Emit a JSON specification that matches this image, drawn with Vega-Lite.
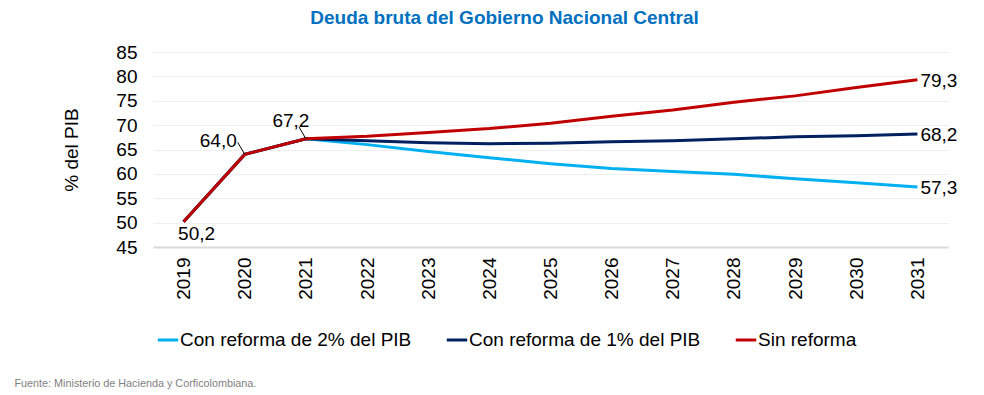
{
  "$schema": "https://vega.github.io/schema/vega-lite/v6.json",
  "width": 795,
  "height": 195,
  "autosize": {"type": "none"},
  "padding": {"left": 153, "top": 52, "right": 36, "bottom": 148},
  "background": "white",
  "config": {
    "view": {"stroke": null},
    "font": "Liberation Sans",
    "locale": {"number": {"decimal": ",", "thousands": ".", "grouping": [3], "currency": ["$", ""]}}
  },
  "title": {
    "text": "Deuda bruta del Gobierno Nacional Central",
    "font": "Liberation Sans",
    "fontSize": 19,
    "fontWeight": "bold",
    "color": "#0070C0",
    "anchor": "middle",
    "frame": "group",
    "dx": -46,
    "baseline": "alphabetic",
    "offset": 0
  },
  "data": {
    "values": [
      {"year": "2019", "series": "Con reforma de 2% del PIB", "value": 50.2},
      {"year": "2020", "series": "Con reforma de 2% del PIB", "value": 64.0},
      {"year": "2021", "series": "Con reforma de 2% del PIB", "value": 67.2},
      {"year": "2022", "series": "Con reforma de 2% del PIB", "value": 66.0},
      {"year": "2023", "series": "Con reforma de 2% del PIB", "value": 64.6},
      {"year": "2024", "series": "Con reforma de 2% del PIB", "value": 63.3},
      {"year": "2025", "series": "Con reforma de 2% del PIB", "value": 62.1},
      {"year": "2026", "series": "Con reforma de 2% del PIB", "value": 61.1},
      {"year": "2027", "series": "Con reforma de 2% del PIB", "value": 60.5},
      {"year": "2028", "series": "Con reforma de 2% del PIB", "value": 59.9},
      {"year": "2029", "series": "Con reforma de 2% del PIB", "value": 59.0},
      {"year": "2030", "series": "Con reforma de 2% del PIB", "value": 58.2},
      {"year": "2031", "series": "Con reforma de 2% del PIB", "value": 57.3},
      {"year": "2019", "series": "Con reforma de 1% del PIB", "value": 50.2},
      {"year": "2020", "series": "Con reforma de 1% del PIB", "value": 64.0},
      {"year": "2021", "series": "Con reforma de 1% del PIB", "value": 67.2},
      {"year": "2022", "series": "Con reforma de 1% del PIB", "value": 66.8},
      {"year": "2023", "series": "Con reforma de 1% del PIB", "value": 66.4},
      {"year": "2024", "series": "Con reforma de 1% del PIB", "value": 66.2},
      {"year": "2025", "series": "Con reforma de 1% del PIB", "value": 66.3},
      {"year": "2026", "series": "Con reforma de 1% del PIB", "value": 66.6},
      {"year": "2027", "series": "Con reforma de 1% del PIB", "value": 66.8},
      {"year": "2028", "series": "Con reforma de 1% del PIB", "value": 67.2},
      {"year": "2029", "series": "Con reforma de 1% del PIB", "value": 67.6},
      {"year": "2030", "series": "Con reforma de 1% del PIB", "value": 67.8},
      {"year": "2031", "series": "Con reforma de 1% del PIB", "value": 68.2},
      {"year": "2019", "series": "Sin reforma", "value": 50.2},
      {"year": "2020", "series": "Sin reforma", "value": 64.0},
      {"year": "2021", "series": "Sin reforma", "value": 67.2},
      {"year": "2022", "series": "Sin reforma", "value": 67.7},
      {"year": "2023", "series": "Sin reforma", "value": 68.5},
      {"year": "2024", "series": "Sin reforma", "value": 69.3},
      {"year": "2025", "series": "Sin reforma", "value": 70.4},
      {"year": "2026", "series": "Sin reforma", "value": 71.8},
      {"year": "2027", "series": "Sin reforma", "value": 73.1},
      {"year": "2028", "series": "Sin reforma", "value": 74.7},
      {"year": "2029", "series": "Sin reforma", "value": 76.0},
      {"year": "2030", "series": "Sin reforma", "value": 77.7},
      {"year": "2031", "series": "Sin reforma", "value": 79.3}
    ]
  },
  "encoding": {
    "x": {
      "field": "year",
      "type": "ordinal",
      "scale": {"type": "point", "padding": 0.5},
      "axis": {
        "title": "Fuente:  Ministerio de Hacienda y Corficolombiana.",
        "titleFont": "Liberation Sans",
        "titleFontSize": 10.8,
        "titleFontWeight": "normal",
        "titleColor": "#7F7F7F",
        "titleAlign": "left",
        "titleAnchor": "start",
        "titleBaseline": "middle",
        "titleX": -139,
        "titleY": 136,
        "labelAngle": -90,
        "labelFontSize": 19,
        "labelColor": "#000000",
        "labelPadding": 10,
        "ticks": false,
        "domainColor": "#D9D9D9",
        "domainWidth": 2,
        "grid": false
      }
    },
    "y": {
      "field": "value",
      "type": "quantitative",
      "scale": {"domain": [45, 85], "nice": false, "zero": false},
      "axis": {
        "title": "% del PIB",
        "titleFontSize": 19,
        "titleFontWeight": "normal",
        "titleColor": "#000000",
        "titlePadding": 34,
        "values": [45, 50, 55, 60, 65, 70, 75, 80, 85],
        "labelFontSize": 19,
        "labelColor": "#000000",
        "labelPadding": 16,
        "ticks": false,
        "domain": false,
        "gridColor": "#EFEFEF",
        "gridWidth": 1
      }
    }
  },
  "layer": [
    {
      "mark": {"type": "line", "strokeWidth": 3},
      "encoding": {
        "color": {
          "field": "series",
          "type": "nominal",
          "scale": {
            "domain": ["Con reforma de 2% del PIB", "Con reforma de 1% del PIB", "Sin reforma"],
            "range": ["#00B0F0", "#002060", "#C00000"]
          },
          "legend": {
            "title": null,
            "orient": "none",
            "legendX": 3,
            "legendY": 276,
            "direction": "horizontal",
            "symbolType": "stroke",
            "symbolStrokeWidth": 3,
            "symbolSize": 420,
            "labelFontSize": 19,
            "labelColor": "#000000",
            "labelOffset": 0,
            "labelLimit": 400,
            "columnPadding": 28
          }
        }
      }
    },
    {
      "transform": [{"filter": "datum.series == 'Sin reforma' && datum.year == '2019'"}],
      "mark": {"type": "text", "fontSize": 19, "align": "center", "baseline": "middle", "dx": 13, "dy": 12},
      "encoding": {"text": {"field": "value", "type": "quantitative", "format": ".1f"}}
    },
    {
      "transform": [{"filter": "datum.series == 'Sin reforma' && datum.year == '2020'"}],
      "mark": {"type": "text", "fontSize": 19, "align": "right", "baseline": "middle", "dx": -8, "dy": -13},
      "encoding": {"text": {"field": "value", "type": "quantitative", "format": ".1f"}}
    },
    {
      "transform": [{"filter": "datum.series == 'Sin reforma' && datum.year == '2021'"}],
      "mark": {"type": "text", "fontSize": 19, "align": "center", "baseline": "middle", "dx": -15, "dy": -18},
      "encoding": {"text": {"field": "value", "type": "quantitative", "format": ".1f"}}
    },
    {
      "transform": [{"filter": "datum.year == '2031'"}],
      "mark": {"type": "text", "fontSize": 19, "align": "left", "baseline": "middle", "dx": 3, "dy": 1},
      "encoding": {"text": {"field": "value", "type": "quantitative", "format": ".1f"}}
    },
    {
      "transform": [{"filter": "datum.series == 'Sin reforma' && (datum.year == '2020' || datum.year == '2021')"}],
      "mark": {"type": "rule", "color": "#000000", "strokeWidth": 1, "x2Offset": -7, "y2Offset": -12},
      "encoding": {
        "x2": {"field": "year"},
        "y2": {"field": "value"}
      }
    }
  ]
}
